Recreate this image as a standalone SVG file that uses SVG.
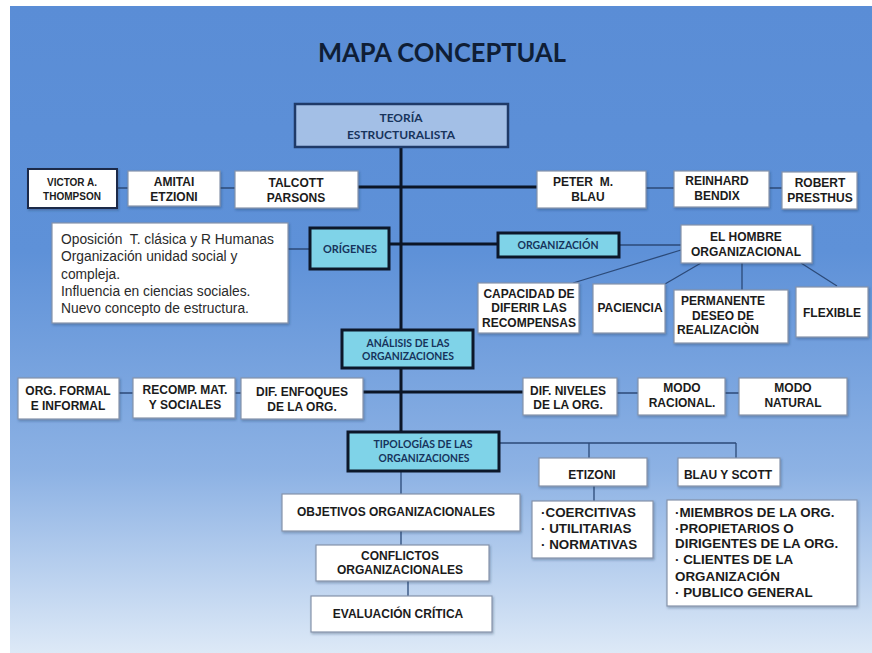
<svg xmlns="http://www.w3.org/2000/svg" width="872" height="653" viewBox="0 0 872 653">
<defs>
<linearGradient id="bg" x1="0" y1="0" x2="0" y2="1">
<stop offset="0" stop-color="#5a8dd6"/>
<stop offset="0.38" stop-color="#5e91d8"/>
<stop offset="0.72" stop-color="#8db2e4"/>
<stop offset="1" stop-color="#dde9f7"/>
</linearGradient>
<filter id="sh" x="-10%" y="-10%" width="130%" height="140%">
<feDropShadow dx="1" dy="1.5" stdDeviation="1" flood-color="#1e3050" flood-opacity="0.35"/>
</filter>
<style>
.w{fill:#ffffff;stroke:#8593ab;stroke-width:1.2;filter:url(#sh)}
.wd{fill:#ffffff;stroke:#1c2c48;stroke-width:2;filter:url(#sh)}
.cy{fill:#7fd3e8;stroke:#0c1729;stroke-width:3}
.top{fill:#a3bfe6;stroke:#1f3a68;stroke-width:2.5}
.t{font-family:"Liberation Sans",Arial,sans-serif;font-weight:bold;font-size:12px;fill:#1b1b1b;text-anchor:middle}
.s{font-size:10px}
.c{font-family:Lato,"Liberation Sans",sans-serif;font-weight:bold;font-size:11px;fill:#17345c;text-anchor:middle}
.b{font-family:"Liberation Sans",Arial,sans-serif;font-weight:bold;font-size:13.4px;fill:#1b1b1b}
.r{font-family:"Liberation Sans",Arial,sans-serif;font-size:13.8px;fill:#2a2a2a}
.thick{stroke:#0b1526;stroke-width:3;fill:none}
.thin{stroke:#2c4a78;stroke-width:1.3;fill:none}
</style>
</defs>
<rect x="0" y="0" width="872" height="653" fill="#ffffff"/>
<rect x="10" y="6" width="862" height="647" fill="url(#bg)"/>
<text x="442" y="62" font-family="Lato,'Liberation Sans',sans-serif" font-weight="bold" font-size="27" fill="#0f1e36" text-anchor="middle" textLength="248" lengthAdjust="spacingAndGlyphs">MAPA CONCEPTUAL</text>

<g id="connectors">
<path class="thick" d="M401 147V330M401 368V432M358 187H537M389 244H498M363 392H523"/>
<path class="thin" d="M117 188H128M220 188H235M646 188H674M769 188H782M288 249H310M619 245H681"/>
<path class="thin" d="M681 250L573 283M701 263L665 284M742 263V290M801 263L837 286"/>
<path class="thin" d="M119 393H133M235 393H241M617 393H638M725 393H739"/>
<path class="thin" d="M499 443H736M589 443V458M736 443V458M594 486V501M401 471V494M401 531V545M408 581V596"/>
</g>

<g id="teoria"><rect class="top" x="295" y="104" width="213" height="43"/>
<text class="c" x="401" y="122" font-size="12" textLength="43" lengthAdjust="spacingAndGlyphs">TEORÍA</text>
<text class="c" x="401" y="139" font-size="12" textLength="108" lengthAdjust="spacingAndGlyphs">ESTRUCTURALISTA</text></g>

<g id="victor"><rect class="wd" x="28" y="169" width="89" height="39"/>
<text class="t s" x="72" y="186">VICTOR A.</text><text class="t s" x="72" y="200">THOMPSON</text></g>
<g id="amitai"><rect class="w" x="128" y="171" width="92" height="35"/>
<text class="t" x="174" y="186">AMITAI</text><text class="t" x="174" y="201">ETZIONI</text></g>
<g id="talcott"><rect class="w" x="235" y="171" width="123" height="37"/>
<text class="t" x="296" y="187">TALCOTT</text><text class="t" x="296" y="202">PARSONS</text></g>
<g id="peter"><rect class="w" x="537" y="171" width="109" height="37"/>
<text class="t" x="583" y="186" xml:space="preserve">PETER  M.</text><text class="t" x="588" y="201">BLAU</text></g>
<g id="reinhard"><rect class="w" x="674" y="171" width="95" height="36"/>
<text class="t" x="717" y="185">REINHARD</text><text class="t" x="717" y="200">BENDIX</text></g>
<g id="robert"><rect class="w" x="782" y="172" width="75" height="37"/>
<text class="t" x="820" y="187">ROBERT</text><text class="t" x="820" y="202">PRESTHUS</text></g>

<g id="origenes-texto"><rect class="w" x="52" y="223" width="236" height="100"/>
<text class="r" x="61" y="244" xml:space="preserve">Oposición  T. clásica y R Humanas</text>
<text class="r" x="61" y="261">Organización unidad social y</text>
<text class="r" x="61" y="278.5">compleja.</text>
<text class="r" x="61" y="296">Influencia en ciencias sociales.</text>
<text class="r" x="61" y="313">Nuevo concepto de estructura.</text></g>
<g id="origenes"><rect class="cy" x="310" y="228" width="79" height="41"/>
<text class="c" x="350" y="253" font-size="10" textLength="54" lengthAdjust="spacingAndGlyphs">ORÍGENES</text></g>
<g id="organizacion"><rect class="cy" x="498" y="233" width="121" height="24"/>
<text class="c" x="558" y="249" font-size="10" textLength="81" lengthAdjust="spacingAndGlyphs">ORGANIZACIÓN</text></g>
<g id="hombre"><rect class="w" x="681" y="225" width="131" height="38"/>
<text class="t" x="746" y="241">EL HOMBRE</text><text class="t" x="746" y="256">ORGANIZACIONAL</text></g>
<g id="capacidad"><rect class="w" x="478" y="283" width="101" height="50"/>
<text class="t" x="529" y="298">CAPACIDAD DE</text><text class="t" x="529" y="312">DIFERIR LAS</text><text class="t" x="529" y="327">RECOMPENSAS</text></g>
<g id="paciencia"><rect class="w" x="593" y="284" width="72" height="49"/>
<text class="t" x="630" y="312">PACIENCIA</text></g>
<g id="permanente"><rect class="w" x="674" y="290" width="114" height="53"/>
<text class="t" x="723" y="305">PERMANENTE</text><text class="t" x="723" y="320">DESEO DE</text><text class="t" x="718" y="334">REALIZACIÒN</text></g>
<g id="flexible"><rect class="w" x="796" y="287" width="72" height="50"/>
<text class="t" x="832" y="317">FLEXIBLE</text></g>

<g id="analisis"><rect class="cy" x="342" y="330" width="131" height="38"/>
<text class="c" x="408" y="347" font-size="10" textLength="83" lengthAdjust="spacingAndGlyphs">ANÁLISIS DE LAS</text>
<text class="c" x="408" y="360" font-size="10" textLength="92" lengthAdjust="spacingAndGlyphs">ORGANIZACIONES</text></g>

<g id="formal"><rect class="w" x="18" y="378" width="101" height="41"/>
<text class="t" x="68" y="395">ORG. FORMAL</text><text class="t" x="68" y="410">E INFORMAL</text></g>
<g id="recomp"><rect class="w" x="133" y="378" width="102" height="40"/>
<text class="t" x="185" y="394">RECOMP. MAT.</text><text class="t" x="185" y="409">Y SOCIALES</text></g>
<g id="enfoques"><rect class="w" x="241" y="378" width="122" height="41"/>
<text class="t" x="302" y="396">DIF. ENFOQUES</text><text class="t" x="302" y="411">DE LA ORG.</text></g>
<g id="niveles"><rect class="w" x="523" y="378" width="94" height="37"/>
<text class="t" x="568" y="395">DIF. NIVELES</text><text class="t" x="568" y="409">DE LA ORG.</text></g>
<g id="racional"><rect class="w" x="638" y="378" width="87" height="37"/>
<text class="t" x="682" y="392">MODO</text><text class="t" x="682" y="407">RACIONAL.</text></g>
<g id="natural"><rect class="w" x="739" y="378" width="108" height="37"/>
<text class="t" x="793" y="392">MODO</text><text class="t" x="793" y="407">NATURAL</text></g>

<g id="tipologias"><rect class="cy" x="348" y="432" width="151" height="39"/>
<text class="c" x="423" y="448" font-size="10" textLength="99" lengthAdjust="spacingAndGlyphs">TIPOLOGÍAS DE LAS</text>
<text class="c" x="424" y="462" font-size="10" textLength="91" lengthAdjust="spacingAndGlyphs">ORGANIZACIONES</text></g>

<g id="etizoni"><rect class="w" x="539" y="458" width="108" height="28"/>
<text class="t" x="592" y="479">ETIZONI</text></g>
<g id="blauscott"><rect class="w" x="678" y="458" width="102" height="28"/>
<text class="t" x="728" y="479">BLAU Y SCOTT</text></g>
<g id="etizoni-tipos"><rect class="w" x="532" y="501" width="121" height="57"/>
<text class="b" x="541" y="517">·COERCITIVAS</text>
<text class="b" x="541" y="533">· UTILITARIAS</text>
<text class="b" x="541" y="549">· NORMATIVAS</text></g>
<g id="blau-tipos"><rect class="w" x="667" y="500" width="190" height="106"/>
<text class="b" x="675" y="517">·MIEMBROS DE LA ORG.</text>
<text class="b" x="675" y="533">·PROPIETARIOS O</text>
<text class="b" x="675" y="548">DIRIGENTES DE LA ORG.</text>
<text class="b" x="675" y="564">· CLIENTES DE LA</text>
<text class="b" x="675" y="581">ORGANIZACIÓN</text>
<text class="b" x="675" y="597">· PUBLICO GENERAL</text></g>

<g id="objetivos"><rect class="w" x="282" y="494" width="238" height="37"/>
<text class="t" x="396" y="516">OBJETIVOS ORGANIZACIONALES</text></g>
<g id="conflictos"><rect class="w" x="316" y="545" width="173" height="36"/>
<text class="t" x="400" y="560">CONFLICTOS</text><text class="t" x="400" y="574">ORGANIZACIONALES</text></g>
<g id="evaluacion"><rect class="w" x="311" y="596" width="181" height="36"/>
<text class="t" x="398" y="618">EVALUACIÓN CRÍTICA</text></g>
</svg>
